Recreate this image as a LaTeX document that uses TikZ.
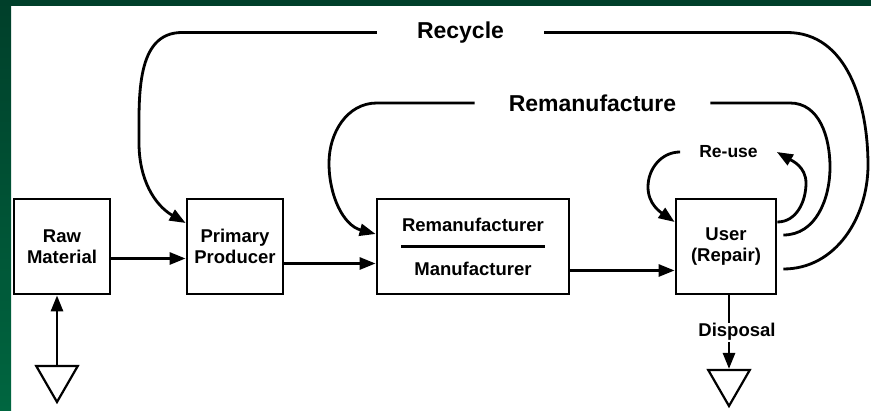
\documentclass[tikz,border=0pt]{standalone}
\usepackage{fontspec}
\setmainfont{Liberation Sans}
\usepackage{tikz}
\usetikzlibrary{arrows.meta, shapes.geometric, calc}
\newcommand{\blockfont}{\fontsize{18.5}{21}\selectfont\bfseries}
\newcommand{\loopfont}{\fontsize{23}{26}\selectfont\bfseries}
\definecolor{framedark}{RGB}{0,63,42}
\definecolor{framelight}{RGB}{0,102,64}
\tikzset{
	block/.style={draw, line width=2.8pt, minimum height=95pt, inner sep=0pt, align=center, font=\blockfont},
	loopline/.style={line width=2.8pt},
	flow/.style={line width=2.8pt, -{Triangle[length=16pt,width=12pt]}},
	sink/.style={draw, line width=2.2pt, regular polygon, regular polygon sides=3, shape border rotate=180, minimum size=48pt, inner sep=0pt},
	looplabel/.style={font=\loopfont, inner ysep=0pt}
}

\begin{document}
\begin{tikzpicture}[x=1pt,y=1pt]
	% slide frame
	\useasboundingbox (0,0) rectangle (871,411);
	\fill[white] (0,0) rectangle (871,411);
	\shade[top color=framedark, bottom color=framelight] (0,0) rectangle (11,411);
	\fill[framedark] (0,405) rectangle (871,411);
	
	% the chain of blocks
	\foreach \nm/\x/\w/\txt in {raw/62/96/{Raw\\Material}, prod/235/96/{Primary\\Producer}, user/726/100/{User\\(Repair)}}
		\node[block, minimum width=\w pt] (\nm) at (\x,164.5) {\txt};
	\node[block, minimum width=192pt] (manu) at (473,164.5) {};
	\node[font=\blockfont] (remtxt) at (473,186.5) {Remanufacturer};
	\node[font=\blockfont] (mantxt) at (473,142.5) {Manufacturer};
	\draw[line width=2.8pt] ($(manu.center)+(-72,0)$) -- ($(manu.center)+(72,0)$);
	
	% sources and sinks
	\node[sink] (rawsink) at (57,33) {};
	\node[sink] (usersink) at (729,29) {};
	
	% forward flow
	\draw[flow] ([yshift=-12pt]raw.east) -- ([yshift=-12pt]prod.west);
	\draw[flow] ([yshift=-17pt]prod.east) -- ([yshift=-17pt]manu.west);
	\draw[flow] ([yshift=-24pt]manu.east) -- ([yshift=-24pt]user.west);
	\draw[flow] (rawsink.north) -- (rawsink.north |- raw.south);
	\draw[flow] (usersink.north |- user.south) -- node[fill=white, xshift=8pt, inner ysep=1pt, font=\blockfont] (disposal) {Disposal} (usersink.north);
	
	% loops back
	\node[looplabel, inner xsep=40pt] (recycle) at (460.5,378.5) {Recycle};
	\node[looplabel, inner xsep=34pt] (remanu) at (592.5,308) {Remanufacture};
	\node[looplabel, font=\fontsize{17.5}{20}\selectfont\bfseries, inner xsep=19pt] (reuse) at (728.5,259) {Re-use};
	
	\draw[flow] (recycle.west) -- (182,378.5) to[out=180,in=90] (139,268) to[out=-90,in=150] ([yshift=23.5pt]prod.west);
	\draw[loopline] (recycle.east) -- (787,378.5) to[out=0,in=90] (868,246) to[out=-90,in=0] ([xshift=6pt,yshift=-22.5pt]user.east);
	
	\draw[flow] (remanu.west) -- (377,308) to[out=180,in=90] (329,248) to[out=-90,in=165] ([yshift=12.5pt]manu.west);
	\draw[loopline] (remanu.east) -- (790,308) to[out=0,in=90] (830,244) to[out=-90,in=0] ([xshift=6pt,yshift=11.5pt]user.east);
	
	\draw[flow] (reuse.west) to[out=180,in=90] (648,224) to[out=-90,in=145] ([yshift=24.5pt]user.west);
	\draw[flow] ([yshift=24.5pt]user.east) to[out=0,in=-90] (806,228) to[out=90,in=-30] (reuse.east);
\end{tikzpicture}
\end{document}
